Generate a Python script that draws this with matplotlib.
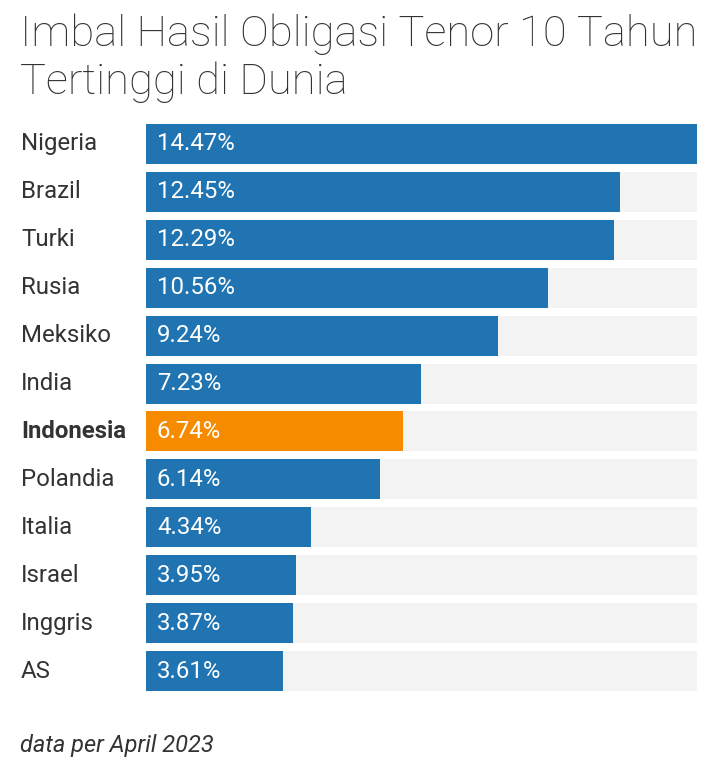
import matplotlib.pyplot as plt

# data
countries = ['Nigeria', 'Brazil', 'Turki', 'Rusia', 'Meksiko', 'India', 'Indonesia',
             'Polandia', 'Italia', 'Israel', 'Inggris', 'AS']
yields = [14.47, 12.45, 12.29, 10.56, 9.24, 7.23, 6.74, 6.14, 4.34, 3.95, 3.87, 3.61]
highlight = 'Indonesia'

blue = '#1f74b1'
orange = '#f68b00'
grey_bg = '#f3f3f3'
text_col = '#333333'

plt.rcParams['font.family'] = ['Roboto', 'DejaVu Sans']

fig = plt.figure(figsize=(7.17, 7.62), dpi=100)
fig.patch.set_facecolor('white')

# bar area
ax = fig.add_axes([146 / 717, 1 - 691 / 762, (697 - 146) / 717, (691 - 124) / 762])
h = 40 / 48
xmax = max(yields)
ypos = list(range(len(countries)))
ax.barh(ypos, [xmax] * len(countries), height=h, color=grey_bg, zorder=1)
colors = [orange if c == highlight else blue for c in countries]
ax.barh(ypos, yields, height=h, color=colors, zorder=2)
ax.set_xlim(0, xmax)
ax.set_ylim(len(countries) - 1 + h / 2, -h / 2)
ax.axis('off')

for i, (c, v) in enumerate(zip(countries, yields)):
    ax.text(11 / 551 * xmax, i, f'{v:.2f}%', color='white', fontsize=17.3,
            va='center', ha='left', zorder=3)
    fig.text(21 / 717, ax.transData.transform((0, i))[1] / 762, c,
             color=text_col, fontsize=17.3, va='center', ha='left',
             fontweight='bold' if c == highlight else 'normal')

# title, sized so the first line spans the chart width
t1 = fig.text(20 / 717, 1 - 46 / 762, 'Imbal Hasil Obligasi Tenor 10 Tahun',
              fontsize=36, fontweight=100, color=text_col, va='baseline')
t2 = fig.text(20 / 717, 1 - 94 / 762, 'Tertinggi di Dunia',
              fontsize=36, fontweight=100, color=text_col, va='baseline')
r = fig.canvas.get_renderer()
w = t1.get_window_extent(r).width
fs = 36 * 677 / w
t1.set_fontsize(fs)
t2.set_fontsize(fs)

# footnote
fig.text(20 / 717, 1 - 752 / 762, 'data per April 2023', fontsize=17,
         style='italic', color=text_col, va='baseline')

fig.savefig('out.png', dpi=100)
